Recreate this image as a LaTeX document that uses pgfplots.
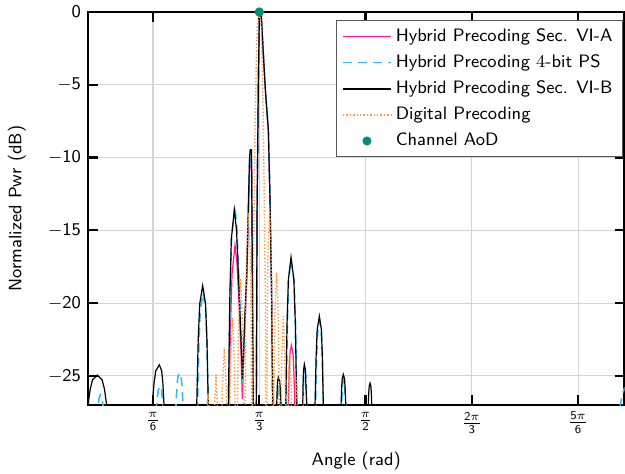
\documentclass[border=0pt]{standalone}
\usepackage{amsmath}
\usepackage{pgfplots}
\pgfplotsset{compat=1.18}
\renewcommand{\familydefault}{\sfdefault}
\definecolor{hybA}{HTML}{FF1493}
\definecolor{hybPS}{HTML}{33BBEE}
\definecolor{digi}{HTML}{FF9933}
\definecolor{aod}{HTML}{00907A}

\begin{document}
\begin{tikzpicture}
\begin{axis}[
    scale only axis,
    width=268.25pt, height=196.5pt,
    xmin=11.65, xmax=163.1,
    ymin=-27, ymax=0,
    xtick={30,60,90,120,150},
    xticklabels={$\frac{\pi}{\text{6}}$,$\frac{\pi}{\text{3}}$,$\frac{\pi}{\text{2}}$,$\frac{\text{2}\pi}{\text{3}}$,$\frac{\text{5}\pi}{\text{6}}$},
    ytick={-25,-20,-15,-10,-5,0},
    yticklabels={$-$25,$-$20,$-$15,$-$10,$-$5,0},
    tick label style={font=\small},
    label style={font=\small},
    xlabel={Angle (rad)},
    ylabel={Normalized Pwr (dB)},
    xlabel style={at={(axis description cs:0.5,0)}, yshift=-28pt, anchor=center},
    ylabel style={at={(axis description cs:-0.1325,0.5)}, anchor=center},
    grid=major,
    major grid style={line width=0.6pt, black!17},
    axis line style={line width=1.1pt},
    major tick length=5pt,
    every tick/.style={line width=1.1pt, black},
    legend style={at={(axis description cs:0.997,0.98)}, anchor=north east,
        font=\small, draw=black!65, line width=0.5pt, row sep=1.2pt,
        inner xsep=3pt, inner ysep=2pt},
    legend cell align=left,
    legend image code/.code={\draw[#1, line width=0.8pt] (0pt,0pt) -- (24pt,0pt);},
]
\coordinate (sw) at (rel axis cs:0,0);

% Hybrid precoding Sec. VI-A
\addplot[hybA, line width=0.6pt] coordinates {
(51.29,-32)(51.46,-27)(51.88,-21.5)(52.31,-18)(53.15,-16)(53.72,-17.3)(54.37,-20.5)(54.85,-23.5)(55.21,-26.6)
(55.84,-22)(56.48,-18.5)(57.25,-11)(57.61,-10.4)(57.84,-10.6)(58.04,-18)(58.29,-26)(58.46,-32)
(59.03,-32)(59.17,-27)(59.37,-14)(59.73,-5)(60.01,-0.5)(60.30,0)(60.58,-0.3)(61.06,-2.5)(61.76,-5.5)(62.56,-8.1)(63.04,-13)(63.46,-19)(63.80,-27)(63.94,-32)
(68.03,-32)(68.20,-27)(68.41,-24.75)(68.63,-23.5)(69.05,-22.9)(69.54,-23.5)(69.78,-24.75)(70.04,-27)(70.21,-32)
};
\addlegendentry{Hybrid Precoding Sec. VI-A}

% Hybrid precoding 4-bit phase shifters
\addplot[hybPS, line width=0.8pt, dash pattern=on 4.5pt off 3pt] coordinates {
(14.33,-32)(14.47,-27)(14.81,-26.5)(15.18,-26.3)(15.55,-26.5)(15.89,-27)(16.03,-32)
(30.85,-32)(30.99,-27)(31.47,-26.0)(31.98,-25.7)(32.43,-26.0)(32.82,-27)(32.96,-32)
(36.32,-32)(36.49,-27)(36.75,-25.79)(36.99,-25.13)(37.48,-24.8)(37.98,-25.13)(38.22,-25.79)(38.47,-27)(38.64,-32)
(42.40,-32)(42.56,-27)(42.96,-22.77)(43.34,-20.46)(44.12,-19.3)(44.87,-20.46)(45.25,-22.77)(45.61,-27)(45.78,-32)
(51.15,-32)(51.32,-27)(51.74,-19.5)(52.19,-15.4)(53.10,-13.3)(53.66,-14.8)(54.34,-19)(54.88,-22.6)(55.27,-25.5)
(55.84,-21.8)(56.48,-18)(57.25,-10.3)(57.44,-9.9)(57.81,-9.9)(58.04,-18)(58.29,-26)(58.46,-32)
(59.03,-32)(59.17,-27)(59.37,-14)(59.73,-5)(60.01,-0.5)(60.30,0)(60.58,-0.3)(61.06,-2.5)(61.76,-5.5)(62.56,-8.1)(63.04,-13)(63.46,-19)(63.80,-27)(63.94,-32)
(64.81,-32)(64.96,-27)(65.38,-25.6)(66.11,-27)(66.28,-32)
(67.38,-32)(67.55,-27)(67.90,-21.5)(68.26,-18.5)(68.96,-17.0)(69.81,-18.5)(70.24,-21.5)(70.66,-27)(70.83,-32)
(72.18,-32)(72.35,-27)(72.47,-25.68)(72.56,-24.96)(72.78,-24.6)(73.09,-24.96)(73.24,-25.68)(73.40,-27)(73.57,-32)
(75.71,-32)(75.88,-27)(76.17,-23.81)(76.45,-22.07)(77.01,-21.2)(77.55,-22.07)(77.82,-23.81)(78.08,-27)(78.25,-32)
(83.05,-32)(83.22,-27)(83.50,-25.6)(83.78,-25.2)(84.09,-25.6)(84.41,-27)(84.58,-32)
(161.72,-32)(161.94,-27)(162.42,-26.3)(162.99,-25.9)(163.3,-25.8)
};
\addlegendentry{Hybrid Precoding $4$-bit PS}

% Hybrid precoding Sec. VI-B
\addplot[black, line width=0.6pt] coordinates {
(11.48,-32)(11.65,-27)(12.31,-25.87)(12.96,-25.26)(14.28,-24.95)(15.60,-25.26)(16.27,-25.87)(16.93,-27)(17.10,-32)
(29.64,-32)(29.80,-27)(30.30,-25.48)(30.79,-24.65)(31.78,-24.24)(32.45,-24.65)(32.78,-25.48)(33.11,-27)(33.28,-32)
(42.17,-32)(42.34,-27)(42.76,-22.49)(43.19,-20.03)(44.03,-18.8)(44.82,-20.03)(45.22,-22.49)(45.61,-27)(45.78,-32)
(51.09,-32)(51.26,-27)(51.69,-19.63)(52.11,-15.61)(52.96,-13.6)(53.58,-15.0)(54.28,-19)(54.85,-22.5)(55.27,-25.2)
(55.84,-21.5)(56.46,-17.8)(57.25,-10.0)(57.44,-9.46)(57.81,-9.46)(58.04,-17.8)(58.29,-26)(58.46,-32)
(59.03,-32)(59.17,-27)(59.37,-14)(59.73,-5)(60.01,-0.5)(60.30,0)(60.58,-0.3)(61.06,-2.5)(61.76,-5.5)(62.56,-8.1)(63.04,-13)(63.46,-19)(63.80,-27)(63.94,-32)
(64.76,-32)(64.93,-27)(65.04,-25.95)(65.15,-25.38)(65.38,-25.1)(65.76,-25.38)(65.97,-25.95)(66.14,-27)(66.31,-32)
(67.30,-32)(67.47,-27)(67.84,-21.42)(68.22,-18.37)(68.96,-16.85)(69.77,-18.37)(70.18,-21.42)(70.57,-27)(70.74,-32)
(72.10,-32)(72.27,-27)(72.38,-25.46)(72.49,-24.62)(72.72,-24.2)(73.06,-24.62)(73.14,-25.46)(73.40,-27)(73.57,-32)
(75.57,-32)(75.74,-27)(76.05,-23.65)(76.35,-21.8)(76.96,-20.9)(77.52,-21.8)(77.80,-23.65)(78.08,-27)(78.25,-32)
(82.91,-32)(83.08,-27)(83.25,-25.85)(83.41,-25.2)(83.73,-24.9)(84.07,-25.2)(84.24,-25.85)(84.41,-27)(84.58,-32)
(90.62,-32)(90.79,-27)(90.90,-26.18)(91.03,-25.72)(91.27,-25.5)(91.51,-25.72)(91.63,-26.18)(91.75,-27)(91.92,-32)
};
\addlegendentry{Hybrid Precoding Sec. VI-B}

% Digital precoding
\addplot[digi, line width=0.7pt, dash pattern=on 0.7pt off 1pt] coordinates {
(44.40,-45)(44.97,-29.2)(45.53,-26.2)(46.10,-29.2)(46.66,-45)
(47.22,-27.9)(47.79,-24.9)(48.35,-27.9)(48.92,-45)
(49.51,-26.1)(50.12,-23.1)(50.73,-26.1)(51.32,-45)
(51.59,-29.7)(51.88,-24)(52.45,-21)(53.01,-24)(53.31,-29.7)(53.58,-45)
(53.85,-27)(54.14,-21.3)(54.71,-18.3)(55.27,-21.3)(55.57,-27)(55.84,-45)
(56.10,-22.5)(56.38,-16.8)(56.92,-13.8)(57.47,-16.8)(57.75,-22.5)(58.01,-45)
(58.24,-20)(58.52,-13.8)(58.80,-8.1)(59.11,-3.9)(59.42,-1)(60.0,0)(60.55,-1)(60.86,-3.9)(61.17,-8.1)(61.45,-13.8)(61.74,-20)(61.99,-45)
(62.22,-22.1)(62.47,-16.4)(62.94,-13.4)(63.40,-16.4)(63.66,-22.1)(63.88,-45)
(64.12,-26.6)(64.38,-20.9)(64.87,-17.9)(65.36,-20.9)(65.62,-26.6)(65.86,-45)
(66.09,-29.6)(66.31,-23.9)(66.78,-20.9)(67.24,-23.9)(67.47,-29.6)(67.69,-45)
(68.15,-26.2)(68.61,-23.2)(69.08,-26.2)(69.53,-45)
(70.02,-28.1)(70.52,-25.1)(71.01,-28.1)(71.51,-45)
(72.00,-29.4)(72.49,-26.4)(72.99,-29.4)(73.48,-45)
};
\addlegendentry{Digital Precoding}

% Channel angle of departure
\addplot[only marks, mark=*, mark size=2.1pt, color=aod,
    legend image code/.code={\fill[aod] (12pt,0pt) circle (2pt);}] coordinates {(60,0)};
\addlegendentry{Channel AoD}
\end{axis}
\pgfresetboundingbox
\path[use as bounding box] ([shift={(-44pt,-34pt)}]sw) rectangle ([shift={(268.5pt,202.5pt)}]sw);
\end{tikzpicture}
\end{document}
